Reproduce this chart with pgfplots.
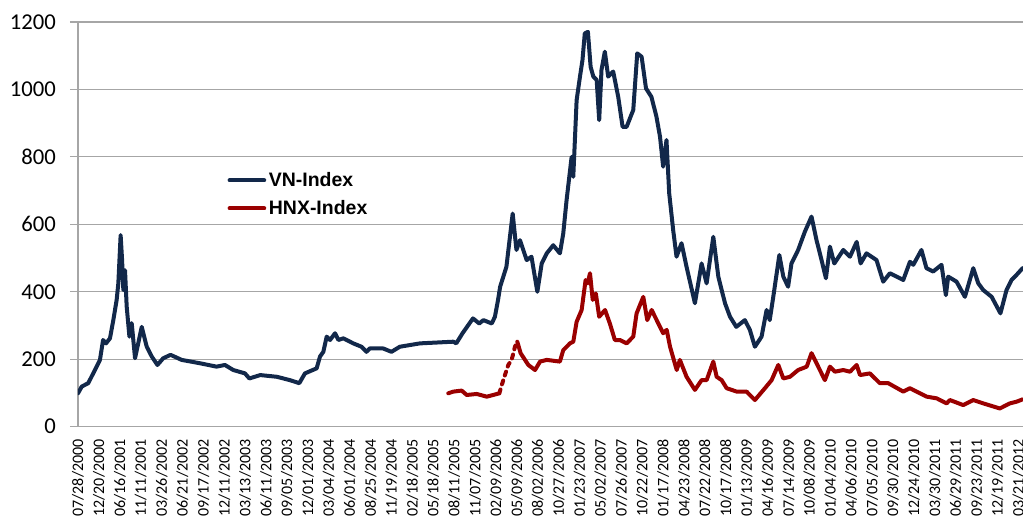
\documentclass[border=0pt]{standalone}
\usepackage{pgfplots}
\pgfplotsset{compat=1.18}
\usepackage{fontspec}
\setmainfont{Carlito}
\newfontfamily\legfont{Liberation Sans}
\definecolor{vnblue}{HTML}{12284A}
\definecolor{hnxred}{HTML}{9A0000}
\definecolor{gridgray}{HTML}{A6A6A6}
\begin{document}
\begin{tikzpicture}
\begin{axis}[
  at={(0,0)}, anchor=south west,
  scale only axis,
  width=708.75pt, height=303.5pt,
  xmin=0, xmax=45.22, ymin=0, ymax=1200,
  axis x line*=bottom, axis y line*=left,
  axis line style={-, draw=gridgray, line width=0.8pt},
  ytick={0,200,...,1200},
  ymajorgrids, major grid style={draw=gridgray, line width=0.8pt},
  tick align=outside, major tick length=6pt,
  ytick style={draw=gridgray, line width=0.8pt},
  xtick style={draw=none},
  /pgf/number format/assume math mode=true,
  /pgf/number format/1000 sep={},
  yticklabel style={font=\fontsize{17}{17}\selectfont, xshift=-7pt},
  xtick={0,...,45},
  xticklabels={07/28/2000,12/20/2000,06/16/2001,11/11/2001,03/26/2002,06/21/2002,09/17/2002,12/11/2002,03/13/2003,06/11/2003,09/05/2003,12/01/2003,03/04/2004,06/01/2004,08/25/2004,11/19/2004,02/18/2005,05/18/2005,08/11/2005,11/07/2005,02/09/2006,05/09/2006,08/02/2006,10/27/2006,01/23/2007,05/02/2007,07/26/2007,10/22/2007,01/17/2008,04/23/2008,07/22/2008,10/17/2008,01/13/2009,04/16/2009,07/14/2009,10/08/2009,01/04/2010,04/06/2010,07/05/2010,09/30/2010,12/24/2010,03/30/2011,06/29/2011,09/23/2011,12/19/2011,03/21/2012},
  xticklabel style={rotate=90, anchor=east, font=\fontsize{12}{12}\selectfont},
  legend style={draw=none, fill=none, at={(rel axis cs:0.158,0.574)}, anchor=west,
    font=\legfont\bfseries\fontsize{14.6}{14.6}\selectfont, row sep=5pt, inner sep=0pt},
  legend cell align=left,
  legend image code/.code={\draw[#1] (0pt,0pt) -- (26pt,0pt);},
  every axis plot/.append style={line join=round, line cap=round},
]
\addplot[color=vnblue, line width=3pt] coordinates {
(0.00,99) (0.18,119) (0.49,129) (0.81,168) (1.05,198) (1.20,257) (1.34,247) (1.53,262)
(1.69,316) (1.85,376) (1.93,425) (2.04,568) (2.11,494) (2.17,405) (2.25,464) (2.33,356)
(2.46,267) (2.57,307) (2.73,203) (3.05,296) (3.29,237) (3.53,208) (3.80,183) (4.08,203)
(4.43,213) (4.96,198) (5.84,188) (6.63,178) (7.03,183) (7.43,168) (7.99,158) (8.20,143)
(8.72,153) (9.51,148) (10.14,138) (10.59,129) (10.86,158) (11.42,173) (11.58,208) (11.74,222)
(11.90,267) (12.06,257) (12.30,277) (12.46,257) (12.70,262) (13.17,247) (13.57,237) (13.80,222)
(13.96,232) (14.60,232) (15.00,222) (15.40,237) (16.36,247) (17.96,252) (18.10,247) (18.40,277)
(18.90,321) (19.20,306) (19.40,316) (19.80,306) (19.95,326) (20.10,376) (20.20,415) (20.50,474)
(20.80,632) (20.98,524) (21.15,553) (21.47,494) (21.70,504) (21.98,400) (22.19,484) (22.43,514)
(22.74,538) (23.06,514) (23.22,573) (23.38,672) (23.62,800) (23.70,741) (23.86,968) (24.02,1038)
(24.14,1087) (24.25,1166) (24.40,1171) (24.53,1067) (24.66,1038) (24.82,1028) (24.94,909) (25.05,1058)
(25.21,1112) (25.37,1038) (25.61,1053) (25.85,978) (26.06,889) (26.25,889) (26.57,939) (26.76,1107)
(26.97,1097) (27.18,1003) (27.44,978) (27.68,919) (27.85,860) (28.00,771) (28.16,850) (28.29,692)
(28.48,583) (28.64,504) (28.88,544) (29.12,474) (29.52,366) (29.84,484) (30.08,425) (30.40,563)
(30.64,445) (30.96,366) (31.20,326) (31.50,296) (31.91,316) (32.15,287) (32.39,237) (32.71,267)
(32.95,346) (33.10,316) (33.27,385) (33.56,509) (33.75,445) (33.98,415) (34.14,484) (34.46,524)
(34.78,578) (35.10,623) (35.34,553) (35.58,494) (35.79,440) (35.98,534) (36.19,484) (36.62,524)
(36.94,504) (37.26,548) (37.45,484) (37.73,514) (38.21,494) (38.53,430) (38.85,455) (39.49,435)
(39.81,489) (39.97,480) (40.36,524) (40.60,470) (40.92,460) (41.32,480) (41.53,390) (41.64,445)
(42.04,430) (42.44,385) (42.84,470) (43.08,425) (43.32,405) (43.72,385) (44.14,336) (44.43,405)
(44.67,435) (44.91,450) (45.20,470)
};
\addlegendentry{VN-Index}
\addplot[color=hnxred, line width=3pt] coordinates {
(17.72,99) (17.96,104) (18.36,107) (18.60,94) (19.08,97) (19.56,89) (19.87,94) (20.16,99)
};
\addlegendentry{HNX-Index}
\addplot[color=hnxred, line width=3pt, dash pattern=on 3pt off 4pt, forget plot] coordinates {
(20.16,99) (20.35,138) (20.59,183) (20.75,198) (20.91,237) (21.02,252)
};
\addplot[color=hnxred, line width=3pt, forget plot] coordinates {
(21.02,252) (21.18,218) (21.39,198) (21.55,183) (21.87,168) (22.11,193) (22.43,198) (23.06,193)
(23.22,227) (23.54,247) (23.70,252) (23.86,311) (24.10,346) (24.29,435) (24.39,425) (24.50,455)
(24.63,376) (24.78,395) (24.94,326) (25.22,346) (25.45,306) (25.69,257) (25.93,257) (26.25,247)
(26.57,267) (26.73,336) (27.05,385) (27.24,316) (27.45,346) (27.69,316) (28.00,277) (28.17,287)
(28.33,237) (28.65,168) (28.80,198) (29.12,148) (29.52,109) (29.84,138) (30.08,138) (30.40,193)
(30.56,148) (30.80,138) (31.04,114) (31.52,104) (31.99,104) (32.39,79) (32.87,114) (33.19,138)
(33.51,183) (33.75,143) (34.07,148) (34.46,168) (34.87,178) (35.10,218) (35.34,188) (35.74,138)
(35.98,178) (36.22,163) (36.62,168) (36.94,163) (37.26,183) (37.42,153) (37.89,158) (38.37,129)
(38.77,129) (39.49,104) (39.81,114) (40.13,104) (40.61,89) (41.09,84) (41.56,69) (41.72,79)
(42.36,64) (42.84,79) (43.32,69) (44.11,54) (44.59,69) (44.91,74) (45.20,81)
};
\end{axis}
\pgfresetboundingbox
\path[use as bounding box] (-58.5pt,-69.2pt) rectangle (708.75pt,320pt);
\end{tikzpicture}
\end{document}
